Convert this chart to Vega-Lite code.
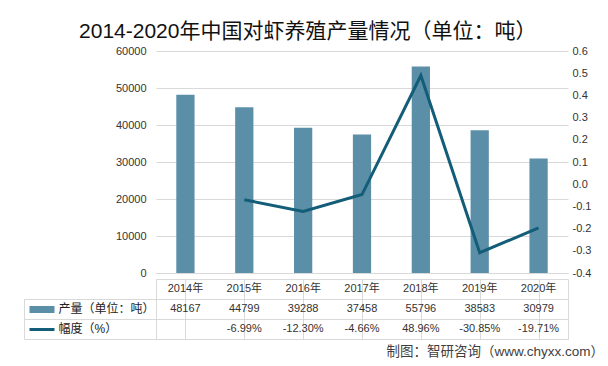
{
  "$schema": "https://vega.github.io/schema/vega-lite/v6.json",
  "padding": {"left": 23, "top": 21, "right": 0, "bottom": 2},
  "config": {
    "locale": {"number": {"decimal": ".", "thousands": ",", "grouping": [3], "currency": ["", ""], "minus": "-"}},
    "font": "Liberation Sans, Noto Sans CJK SC",
    "view": {"stroke": null},
    "axis": {"labelFont": "Liberation Sans, Noto Sans CJK SC", "labelColor": "#333333", "labelFontSize": 11},
    "text": {"font": "Liberation Sans, Noto Sans CJK SC"}
  },
  "title": {"text": "2014-2020年中国对虾养殖产量情况（单位：吨）", "fontSize": 21, "fontWeight": "normal", "color": "#111111", "anchor": "middle", "offset": 3, "dx": -6, "font": "Liberation Sans, Noto Sans CJK SC"},
  "datasets": {
    "shrimp": [
      {"year": "2014年", "production": 48167, "growth": null},
      {"year": "2015年", "production": 44799, "growth": -0.0699},
      {"year": "2016年", "production": 39288, "growth": -0.1230},
      {"year": "2017年", "production": 37458, "growth": -0.0466},
      {"year": "2018年", "production": 55796, "growth": 0.4896},
      {"year": "2019年", "production": 38583, "growth": -0.3085},
      {"year": "2020年", "production": 30979, "growth": -0.1971}
    ]
  },
  "spacing": 0,
  "vconcat": [
    {
      "width": 412,
      "height": 222,
      "data": {"name": "shrimp"},
      "encoding": {
        "x": {"field": "year", "type": "nominal", "sort": null,
          "scale": {"paddingInner": 0, "paddingOuter": 0},
          "axis": {"title": null, "labels": false, "ticks": false, "domainColor": "#d9d9d9", "grid": false}}
      },
      "layer": [
        {
          "mark": {"type": "bar", "color": "#5b8fa8", "width": {"band": 0.31}},
          "encoding": {
            "y": {"field": "production", "type": "quantitative",
              "scale": {"domain": [0, 60000], "nice": false},
              "axis": {"title": null, "format": "d", "values": [0, 10000, 20000, 30000, 40000, 50000, 60000], "grid": true, "gridColor": "#d9d9d9", "domain": false, "ticks": false, "labelPadding": 10}}
          }
        },
        {
          "mark": {"type": "line", "color": "#135d78", "strokeWidth": 3},
          "encoding": {
            "y": {"field": "growth", "type": "quantitative",
              "scale": {"domain": [-0.4, 0.6], "nice": false},
              "axis": {"title": null, "orient": "right", "values": [-0.4, -0.3, -0.2, -0.1, 0, 0.1, 0.2, 0.3, 0.4, 0.5, 0.6], "grid": false, "domain": false, "ticks": false, "labelPadding": 4}}
          }
        }
      ],
      "resolve": {"scale": {"y": "independent"}}
    },
    {
      "width": 412,
      "height": 60,
      "data": {"name": "shrimp"},
      "view": {"stroke": "#d9d9d9"},
      "title": {"text": "制图：智研咨询（www.chyxx.com）", "orient": "bottom", "anchor": "end", "fontSize": 13.5, "fontWeight": "normal", "color": "#404040", "dx": 36, "offset": 5, "font": "Liberation Sans, Noto Sans CJK SC"},
      "encoding": {
        "x": {"field": "year", "type": "nominal", "sort": null,
          "scale": {"paddingInner": 0, "paddingOuter": 0},
          "axis": {"title": null, "labels": false, "ticks": false, "domain": false, "grid": true, "gridColor": "#d9d9d9", "bandPosition": 0}}
      },
      "layer": [
        {
          "mark": {"type": "text", "fontSize": 11, "color": "#333333"},
          "encoding": {
            "y": {"datum": "年份", "type": "nominal", "bandPosition": 0.5,
              "scale": {"type": "band", "domain": ["年份", "产量（单位：吨）", "幅度（%）"], "paddingInner": 0, "paddingOuter": 0},
              "axis": {"title": null, "orient": "left", "bandPosition": 1, "labels": false, "ticks": false, "domain": false, "grid": true, "gridColor": "#d9d9d9"}},
            "text": {"field": "year", "type": "nominal"}
          }
        },
        {
          "mark": {"type": "text", "fontSize": 11, "color": "#333333"},
          "encoding": {
            "y": {"datum": "产量（单位：吨）", "type": "nominal", "bandPosition": 0.5,
              "scale": {"type": "band", "domain": ["年份", "产量（单位：吨）", "幅度（%）"], "paddingInner": 0, "paddingOuter": 0},
              "axis": {"title": null, "orient": "left", "bandPosition": 0.5, "domain": false, "grid": false,
                "labelExpr": "datum.value == '年份' ? '' : datum.value",
                "labelAlign": "left", "labelPadding": -29, "labelFontSize": 12, "labelColor": "#222222",
                "tickSize": 127, "tickDash": [0, 102, 25, 300],
                "tickColor": {"condition": {"test": "datum.value == '产量（单位：吨）'", "value": "#5b8fa8"}, "value": "#135d78"},
                "tickWidth": {"condition": {"test": "datum.value == '产量（单位：吨）'", "value": 7}, "value": 3},
                "tickOpacity": {"condition": {"test": "datum.value == '年份'", "value": 0}, "value": 1}}},
            "text": {"field": "production", "type": "quantitative", "format": "d"}
          }
        },
        {
          "transform": [{"filter": "datum.growth != null"}],
          "mark": {"type": "text", "fontSize": 11, "color": "#333333"},
          "encoding": {
            "y": {"datum": "幅度（%）", "type": "nominal", "bandPosition": 0.5,
              "scale": {"type": "band", "domain": ["年份", "产量（单位：吨）", "幅度（%）"], "paddingInner": 0, "paddingOuter": 0},
              "axis": {"title": null, "orient": "left", "offset": 132, "bandPosition": 1, "labels": false, "grid": false,
                "domain": true, "domainColor": "#d9d9d9", "domainDash": [0, 20, 40],
                "ticks": true, "tickSize": -132, "tickColor": "#d9d9d9"}},
            "text": {"field": "growth", "type": "quantitative", "format": ".2%"}
          }
        }
      ],
      "resolve": {"axis": {"y": "independent"}}
    }
  ]
}
